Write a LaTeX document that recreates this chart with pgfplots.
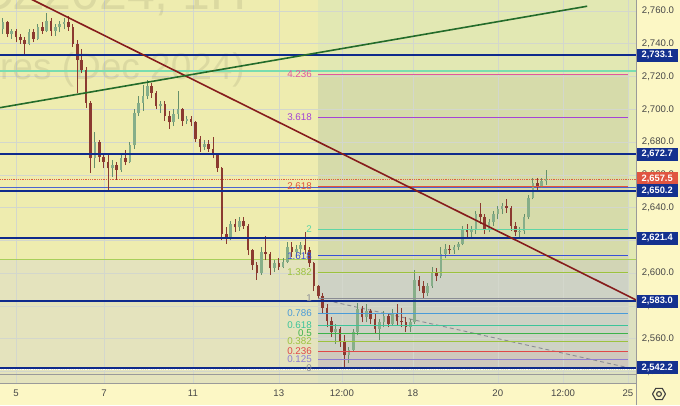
\documentclass[border=0pt]{standalone}
\usepackage{pgfplots}
\pgfplotsset{compat=1.18}
\usepackage{pgfplotstable}
\usepackage{fontspec}
\setmainfont{Liberation Sans}

\definecolor{bgyellow}{HTML}{EEECAF}
\definecolor{panel}{HTML}{FCF7C5}
\definecolor{gridc}{HTML}{D3D7CC}
\definecolor{navyline}{HTML}{0E2A8C}
\definecolor{boxnavy}{HTML}{14318F}
\definecolor{boxred}{HTML}{E05541}
\definecolor{tickgray}{HTML}{474747}
\definecolor{bordgray}{HTML}{9A9A9A}
\definecolor{icongray}{HTML}{404040}
\definecolor{maroon}{HTML}{861C1C}
\definecolor{tgreen}{HTML}{236B2A}
\definecolor{upwick}{HTML}{66906B}
\definecolor{upbody}{HTML}{86AE89}
\definecolor{dnc}{HTML}{8B3A30}
\definecolor{mintline}{HTML}{78DDB0}
\definecolor{ygline}{HTML}{A8CF5A}
\definecolor{currc}{HTML}{E0603F}
\definecolor{thinblue}{HTML}{4A64D0}
\definecolor{fibgrey}{HTML}{8A8C94}
\definecolor{fibpurple}{HTML}{8E7CD3}
\definecolor{fibred}{HTML}{E04848}
\definecolor{fibyg}{HTML}{9CC23E}
\definecolor{fibgreen}{HTML}{3DB34A}
\definecolor{fibteal}{HTML}{3CC49A}
\definecolor{fibblue}{HTML}{4A9BD8}
\definecolor{fibblue2}{HTML}{3A50D8}
\definecolor{fibmint}{HTML}{5FD6A6}
\definecolor{fibred2}{HTML}{E0553A}
\definecolor{fibpurple2}{HTML}{A544D6}
\definecolor{fibpink}{HTML}{E0579D}
\definecolor{rectB}{HTML}{D0E2BB}
\definecolor{rectC}{HTML}{D6D6D6}
\definecolor{fibupper}{HTML}{969678}
\definecolor{fiblower}{HTML}{9599DA}

\pgfplotstableread{
x o h l c
-0.3 2749 2756 2746 2753
-0.2 2753 2754 2744 2746
-0.1 2746 2749 2743 2748
0.0 2748 2749 2741 2744
0.1 2744 2746 2740 2742
0.2 2742 2744 2734 2740
0.3 2740 2749 2739 2747
0.4 2747 2749 2741 2743
0.5 2743 2752 2742 2750
0.6 2750 2753 2746 2748
0.7 2748 2759 2747 2754
0.8 2754 2756 2745 2748
0.9 2748 2752 2745 2750
1.0 2750 2754 2747 2752
1.1 2752 2756 2749 2753
1.2 2753 2757 2748 2750
1.3 2750 2752 2738 2740
1.4 2740 2742 2710 2730
1.5 2730 2737 2722 2724
1.6 2724 2726 2701 2704
1.7 2704 2705 2661 2670
1.8 2670 2686 2664 2680
1.9 2680 2681 2668 2671
2.0 2671 2673 2664 2668
2.1 2668 2672 2651 2664
2.2 2664 2669 2659 2666
2.3 2666 2668 2657 2663
2.4 2663 2673 2662 2670
2.5 2670 2675 2666 2668
2.6 2668 2680 2667 2678
2.7 2678 2700 2676 2698
2.8 2698 2708 2696 2704
2.9 2704 2715 2699 2708
3.0 2708 2718 2706 2714
3.1 2714 2716 2707 2710
3.2 2710 2711 2700 2702
3.3 2702 2705 2698 2703
3.4 2703 2705 2693 2696
3.5 2696 2699 2688 2692
3.6 2692 2700 2690 2697
3.7 2697 2711 2694 2700
3.8 2700 2701 2690 2693
3.9 2693 2696 2691 2694
4.0 2694 2696 2690 2692
4.1 2692 2693 2680 2682
4.2 2682 2684 2674 2677
4.3 2677 2681 2675 2679
4.4 2679 2681 2674 2676
4.5 2676 2683 2670 2672
4.6 2672 2673 2662 2664
4.7 2664 2665 2620 2624
4.8 2624 2628 2618 2621
4.9 2621 2632 2620 2630
5.0 2630 2633 2625 2628
5.1 2628 2634 2626 2632
5.2 2632 2634 2627 2629
5.3 2629 2630 2611 2614
5.4 2614 2615 2602 2605
5.5 2605 2607 2596 2600
5.6 2600 2616 2599 2613
5.7 2613 2623 2608 2612
5.8 2612 2613 2599 2603
5.9 2603 2608 2601 2606
6.0 2606 2609 2602 2604
6.1 2604 2609 2603 2607
6.2 2607 2619 2606 2616
6.3 2616 2619 2610 2613
6.4 2613 2617 2609 2615
6.5 2615 2619 2611 2617
6.6 2617 2625 2612 2614
6.7 2614 2616 2604 2606
6.8 2606 2607 2589 2592
6.9 2592 2593 2584 2586
7.0 2586 2588 2576 2579
7.1 2579 2581 2567 2571
7.2 2571 2573 2561 2564
7.3 2564 2569 2557 2566
7.4 2566 2567 2555 2558
7.5 2558 2562 2543 2550
7.6 2550 2555 2545 2553
7.7 2553 2566 2552 2564
7.8 2564 2582 2562 2578
7.9 2578 2580 2570 2573
8.0 2573 2581 2570 2577
8.1 2577 2578 2569 2572
8.2 2572 2575 2563 2566
8.3 2566 2572 2559 2570
8.4 2570 2577 2567 2574
8.5 2574 2576 2567 2569
8.6 2569 2578 2568 2576
8.7 2576 2581 2568 2571
8.8 2571 2579 2567 2570
8.9 2570 2573 2564 2567
9.0 2567 2572 2564 2570
9.1 2570 2602 2569 2596
9.2 2596 2598 2589 2592
9.3 2592 2595 2585 2588
9.4 2588 2594 2586 2592
9.5 2592 2604 2591 2601
9.6 2601 2603 2595 2598
9.7 2598 2616 2597 2612
9.8 2612 2618 2609 2615
9.9 2615 2617 2612 2614
10.0 2614 2617 2612 2616
10.1 2616 2619 2614 2618
10.2 2618 2629 2617 2627
10.3 2627 2630 2622 2625
10.4 2625 2629 2621 2627
10.5 2627 2638 2624 2636
10.6 2636 2643 2630 2634
10.7 2634 2636 2624 2627
10.8 2627 2633 2625 2631
10.9 2631 2638 2629 2636
11.0 2636 2641 2633 2639
11.1 2639 2643 2636 2641
11.2 2641 2645 2637 2640
11.3 2640 2641 2626 2629
11.4 2629 2631 2623 2625
11.5 2625 2628 2621 2626
11.6 2626 2636 2624 2634
11.7 2634 2648 2633 2646
11.8 2646 2658 2645 2655
11.9 2655 2658 2650 2653
12.0 2653 2658 2652 2656
12.1 2656 2663 2654 2657.5
}\candles

\begin{document}
\begin{tikzpicture}
\begin{axis}[
  at={(0pt,0pt)}, anchor=south west,
  width=636pt, height=383pt, scale only axis,
  set layers, clip mode=individual,
  xmin=-0.365, xmax=14.155, ymin=2533.0, ymax=2766.7,
  axis line style={draw=none},
  axis background/.style={fill=bgyellow},
  xtick={0,2.01,4.04,6.0,7.44,9.06,11.0,12.49,13.97},
  xticklabels={5,7,11,13,12:00,18,20,12:00,25},
  ytick={2540,2560,...,2760},
  major tick length=0pt,
  yticklabel pos=right,
  scaled y ticks=false,
  grid=major,
  grid style={draw=gridc, line width=0.6pt},
  tick label style={font=\fontsize{9.6}{10}\selectfont, text=tickgray},
  xticklabel style={anchor=center, yshift=-10pt},
  yticklabel style={anchor=center, xshift=22pt},
  yticklabel={\pgfmathprintnumber[fixed, fixed zerofill, precision=1, 1000 sep={,}, assume math mode=true]{\tick}},
]
\begin{pgfonlayer}{axis background}
\fill[panel] (rel axis cs:1,-0.05744) rectangle (rel axis cs:1.06918,1);
\fill[panel] (rel axis cs:0,-0.05744) rectangle (rel axis cs:1,0);
\end{pgfonlayer}
% background rectangles
\addplot[on layer=axis background, fill=rectB, fill opacity=0.4, draw=none, forget plot]
  coordinates {(6.895,2533) (14.155,2533) (14.155,2766.7) (6.895,2766.7) (6.895,2533)};
\addplot[on layer=axis background, fill=rectC, fill opacity=0.38, draw=none, forget plot]
  coordinates {(-0.365,2533) (14.155,2533) (14.155,2608.5) (-0.365,2608.5) (-0.365,2533)};
% fib fills
\addplot[on layer=axis background, fill=fiblower, fill opacity=0.2, draw=none, forget plot]
  coordinates {(6.895,2542.2) (13.97,2542.2) (13.97,2600.7) (6.895,2600.7)};
\addplot[on layer=axis background, fill=fibred, fill opacity=0.06, draw=none, forget plot]
  coordinates {(6.895,2542.2) (13.97,2542.2) (13.97,2552.2) (6.895,2552.2)};
\addplot[on layer=axis background, fill=fibupper, fill opacity=0.15, draw=none, forget plot]
  coordinates {(6.895,2600.7) (13.97,2600.7) (13.97,2721.3) (6.895,2721.3)};

% watermark
\begin{scope}
\clip (rel axis cs:0,0) rectangle (rel axis cs:1,1);
\node[anchor=base east, inner sep=0pt, font=\fontsize{37}{40}\selectfont, text=black, opacity=0.08] at (axis cs:5.23,2717.9) {Gold Futures (Dec 2024)};
\node[anchor=base east, inner sep=0pt, font=\fontsize{50}{55}\selectfont, text=black, opacity=0.08] at (axis cs:5.27,2760.6) {GCZ2024, 1H};
\end{scope}

% full-width thin lines
\addplot[forget plot, mintline, line width=1.8pt] coordinates {(-0.365,2723.4) (14.155,2723.4)};
\addplot[forget plot, ygline, line width=1.1pt] coordinates {(-0.365,2608.5) (14.155,2608.5)};
\addplot[forget plot, thinblue, line width=0.8pt] coordinates {(-0.365,2652.3) (14.155,2652.3)};
\addplot[forget plot, bordgray, line width=1pt] coordinates {(-0.365,2538.1) (14.155,2538.1)};
\addplot[forget plot, white, line width=0.8pt, densely dotted] coordinates {(-0.365,2541.2) (14.155,2541.2)};
\addplot[forget plot, currc, line width=0.8pt, densely dotted] coordinates {(-0.365,2657.5) (14.155,2657.5)};

% dashed grey trend
\addplot[forget plot, fibgrey, line width=0.9pt, dash pattern=on 4pt off 3pt] coordinates {(6.94,2584.3) (13.9,2542.8)};

% candles: wicks
\addplot[forget plot, draw=none, mark=none,
  y filter/.expression={\thisrow{c}>=\thisrow{o} ? y : nan},
  error bars/.cd, y dir=plus, y explicit, error mark=none,
  error bar style={draw=upwick, line width=0.9pt}]
  table[x=x, y=l, y error expr=\thisrow{h}-\thisrow{l}] {\candles};
\addplot[forget plot, draw=none, mark=none,
  y filter/.expression={\thisrow{c}<\thisrow{o} ? y : nan},
  error bars/.cd, y dir=plus, y explicit, error mark=none,
  error bar style={draw=dnc, line width=0.9pt}]
  table[x=x, y=l, y error expr=\thisrow{h}-\thisrow{l}] {\candles};
% candles: bodies
\addplot[forget plot, draw=none, mark=none,
  y filter/.expression={\thisrow{c}>=\thisrow{o} ? y : nan},
  error bars/.cd, y dir=plus, y explicit, error mark=none,
  error bar style={draw=upbody, line width=2.6pt}]
  table[x=x, y=o, y error expr=\thisrow{c}-\thisrow{o}] {\candles};
\addplot[forget plot, draw=none, mark=none,
  y filter/.expression={\thisrow{c}<\thisrow{o} ? y : nan},
  error bars/.cd, y dir=plus, y explicit, error mark=none,
  error bar style={draw=dnc, line width=2.6pt}]
  table[x=x, y=c, y error expr=\thisrow{o}-\thisrow{c}] {\candles};

% fib lines
\addplot[forget plot, fibgrey, line width=1pt] coordinates {(6.895,2542.2) (13.97,2542.2)};
\addplot[forget plot, fibpurple, line width=1pt] coordinates {(6.895,2547.5) (13.97,2547.5)};
\addplot[forget plot, fibred, line width=1pt] coordinates {(6.895,2552.2) (13.97,2552.2)};
\addplot[forget plot, fibyg, line width=1pt] coordinates {(6.895,2558.4) (13.97,2558.4)};
\addplot[forget plot, fibgreen, line width=1pt] coordinates {(6.895,2563.35) (13.97,2563.35)};
\addplot[forget plot, fibteal, line width=1pt] coordinates {(6.895,2568.3) (13.97,2568.3)};
\addplot[forget plot, fibblue, line width=1pt] coordinates {(6.895,2575.4) (13.97,2575.4)};
\addplot[forget plot, fibgrey, line width=1pt] coordinates {(6.895,2584.5) (13.97,2584.5)};
\addplot[forget plot, fibyg, line width=1pt] coordinates {(6.895,2600.7) (13.97,2600.7)};
\addplot[forget plot, fibblue2, line width=1pt] coordinates {(6.895,2610.6) (13.97,2610.6)};
\addplot[forget plot, fibmint, line width=1.2pt] coordinates {(6.895,2626.8) (13.97,2626.8)};
\addplot[forget plot, fibred2, line width=1pt] coordinates {(6.895,2652.9) (13.97,2652.9)};
\addplot[forget plot, fibpurple2, line width=1pt] coordinates {(6.895,2695.2) (13.97,2695.2)};
\addplot[forget plot, fibpink, line width=1pt] coordinates {(6.895,2721.3) (13.97,2721.3)};

% navy horizontal levels
\addplot[forget plot, navyline, line width=1.6pt] coordinates {(-0.365,2733.1) (14.155,2733.1)};
\addplot[forget plot, navyline, line width=1.6pt] coordinates {(-0.365,2672.7) (14.155,2672.7)};
\addplot[forget plot, navyline, line width=1.6pt] coordinates {(-0.365,2650.2) (14.155,2650.2)};
\addplot[forget plot, navyline, line width=1.6pt] coordinates {(-0.365,2621.4) (14.155,2621.4)};
\addplot[forget plot, navyline, line width=1.6pt] coordinates {(-0.365,2583.0) (14.155,2583.0)};
\addplot[forget plot, navyline, line width=1.6pt] coordinates {(-0.365,2542.2) (14.155,2542.2)};

% trend lines
\addplot[forget plot, maroon, line width=1.6pt] coordinates {(-0.365,2776.7) (14.155,2583.7)};
\addplot[forget plot, tgreen, line width=1.6pt] coordinates {(-0.365,2701.0) (13.04,2762.9)};

% fib labels
\begin{scope}[every node/.style={anchor=east, inner sep=0pt, font=\fontsize{9.8}{10}\selectfont}]
\node[text=fibpink] at (axis cs:6.758,2721.3) {4.236};
\node[text=fibpurple2] at (axis cs:6.758,2695.2) {3.618};
\node[text=fibred2] at (axis cs:6.758,2652.9) {2.618};
\node[text=fibmint] at (axis cs:6.758,2626.8) {2};
\node[text=fibblue2] at (axis cs:6.758,2610.6) {1.618};
\node[text=fibyg] at (axis cs:6.758,2600.7) {1.382};
\node[text=fibgrey] at (axis cs:6.758,2584.5) {1};
\node[text=fibblue] at (axis cs:6.758,2575.4) {0.786};
\node[text=fibteal] at (axis cs:6.758,2568.3) {0.618};
\node[text=fibgreen] at (axis cs:6.758,2563.35) {0.5};
\node[text=fibyg] at (axis cs:6.758,2558.4) {0.382};
\node[text=fibred] at (axis cs:6.758,2552.2) {0.236};
\node[text=fibpurple] at (axis cs:6.758,2547.5) {0.125};
\node[text=fibgrey] at (axis cs:6.758,2542.2) {0};
\end{scope}

% price boxes
\begin{scope}[every node/.style={anchor=west, inner sep=0pt, minimum width=42pt, minimum height=13pt, text=white, font=\bfseries\fontsize{9.3}{10}\selectfont}]
\node[fill=boxnavy] at (axis cs:14.155,2733.1) {2,733.1};
\node[fill=boxnavy] at (axis cs:14.155,2672.7) {2,672.7};
\node[fill=boxred] at (axis cs:14.155,2657.5) {2,657.5};
\node[fill=boxnavy] at (axis cs:14.155,2650.2) {2,650.2};
\node[fill=boxnavy] at (axis cs:14.155,2621.4) {2,621.4};
\node[fill=boxnavy] at (axis cs:14.155,2583.0) {2,583.0};
\node[fill=boxnavy] at (axis cs:14.155,2542.2) {2,542.2};
\end{scope}
\end{axis}
\draw[bordgray, line width=0.8pt] (636pt,-22pt) -- (636pt,383pt);
\draw[bordgray, line width=0.8pt] (0pt,0pt) -- (636pt,0pt);
\draw[icongray, line width=1.1pt, line join=round] (665.5pt,-11pt) -- ++(120:6.5pt) -- ++(180:6.5pt) -- ++(240:6.5pt) -- ++(300:6.5pt) -- ++(0:6.5pt) -- cycle;
\draw[icongray, line width=1.1pt] (659pt,-11pt) circle (2.4pt);
\pgfresetboundingbox
\path[use as bounding box] (0pt,-22pt) rectangle (680pt,383pt);
\end{tikzpicture}
\end{document}
